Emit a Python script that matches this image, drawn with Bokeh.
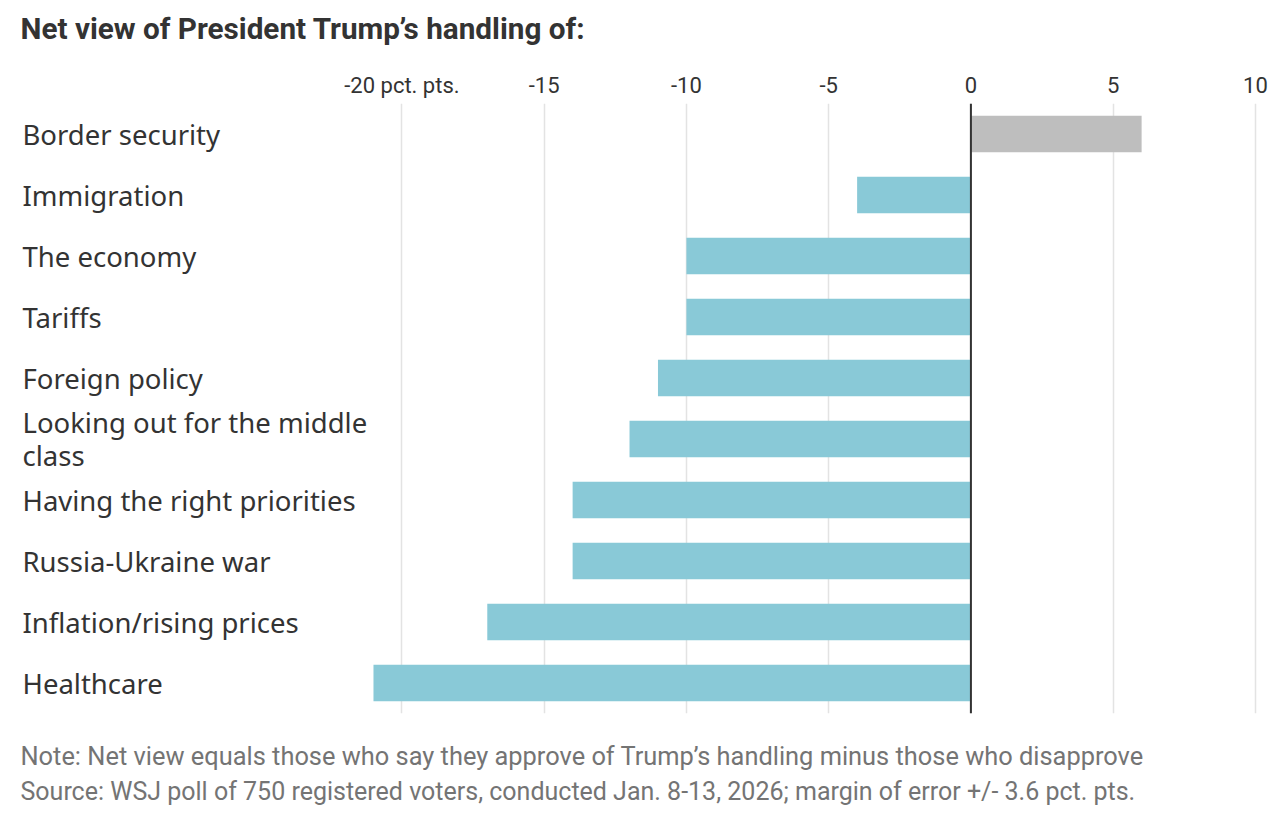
from bokeh.plotting import figure
from bokeh.models import FactorRange, Range1d, FixedTicker, Span, Title, ColumnDataSource
from bokeh.core.properties import value
from bokeh.embed import file_html
from bokeh.resources import INLINE

categories = ["Border security", "Immigration", "The economy", "Tariffs",
              "Foreign policy", "Looking out for the middle\nclass",
              "Having the right priorities", "Russia-Ukraine war",
              "Inflation/rising prices", "Healthcare"]
values = [6, -4, -10, -10, -11, -12, -14, -14, -17, -21]
tick_values = [-20, -15, -10, -5, 0, 5, 10]
tick_labels = {-20: "-20 pct. pts.", -15: "-15", -10: "-10", -5: "-5",
               0: "0", 5: "5", 10: "10"}

title_text = "Net view of President Trump\u2019s handling of:"
note_text = "Note: Net view equals those who say they approve of Trump\u2019s handling minus those who disapprove"
source_text = "Source: WSJ poll of 750 registered voters, conducted Jan. 8-13, 2026; margin of error +/- 3.6 pct. pts."

colors = ["#BEBEBE" if v > 0 else "#89C9D7" for v in values]

x_start, x_end = -34.11, 10.53
src = ColumnDataSource(dict(cat=categories, val=values, zero=[0] * len(values),
                            color=colors, lx=[x_start] * len(values)))

p = figure(width=1270, height=814, output_backend="svg", toolbar_location=None,
           y_range=FactorRange(*list(reversed(categories))),
           x_range=Range1d(x_start, x_end), x_axis_location="above",
           min_border_left=0, min_border_right=0, min_border_top=103,
           min_border_bottom=101)
p.outline_line_color = None
p.yaxis.visible = False
p.ygrid.grid_line_color = None

p.xaxis.ticker = FixedTicker(ticks=tick_values)
p.xaxis.major_label_overrides = tick_labels
p.xaxis.axis_line_color = None
p.xaxis.major_tick_line_color = None
p.xaxis.minor_tick_line_color = None
p.xaxis.major_tick_out = 0
p.xaxis.major_tick_in = 0
p.xaxis.minor_tick_out = 0
p.xaxis.major_label_standoff = 6
p.xaxis.major_label_text_font = "Roboto"
p.xaxis.major_label_text_font_size = "22px"
p.xaxis.major_label_text_color = "#333333"
p.xaxis.axis_label = " "
p.xaxis.axis_label_standoff = 0
p.xaxis.axis_label_text_font_size = "19px"

p.xgrid.ticker = FixedTicker(ticks=tick_values)
p.xgrid.grid_line_color = "#E3E3E3"
p.xgrid.grid_line_width = 1.5

p.hbar(y="cat", left="zero", right="val", height=0.6, color="color", line_color=None, source=src)
p.add_layout(Span(location=0, dimension="height", line_color="#333333", line_width=2))

p.text(x="lx", y="cat", text="cat", x_offset=22, text_baseline="middle", text_align="left",
       text_font=value("Noto Sans"), text_font_size="27.5px", text_color="#333333",
       text_line_height=0.88, source=src)

p.title.text = title_text
p.title.text_font = "Roboto"
p.title.text_font_style = "bold"
p.title.text_font_size = "29.7px"
p.title.text_color = "#333333"
p.title.offset = 20
p.title.standoff = 0

p.add_layout(Title(text=" ", text_font_size="21px", standoff=0), "below")
p.add_layout(Title(text=note_text, text_font="Roboto", text_font_size="25.4px",
                   text_font_style="normal", text_color="#747474", offset=20, standoff=0), "below")
p.add_layout(Title(text=source_text, text_font="Roboto", text_font_size="25px",
                   text_font_style="normal", text_color="#747474", offset=20, standoff=8), "below")

open("out.html", "w").write(file_html(p, INLINE))
